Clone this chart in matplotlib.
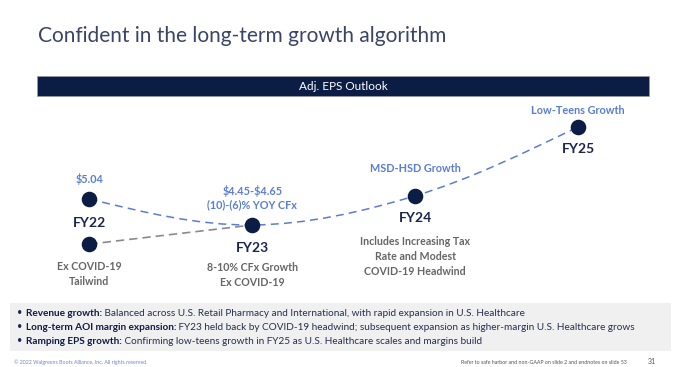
import matplotlib
matplotlib.use("Agg")
import matplotlib.pyplot as plt
from matplotlib.path import Path
from matplotlib.patches import PathPatch, Rectangle
import numpy as np

plt.rcParams['font.family'] = ['Lato', 'DejaVu Sans']

# ---- data ----
years = [22, 23, 24, 25]
fy_labels = ['FY22', 'FY23', 'FY24', 'FY25']
eps_path = [5.04, 4.55, 5.10, 6.40]      # reported / guided EPS trajectory (schematic)
ex_covid_years = [22, 23]
ex_covid = [4.19, 4.55]                   # FY22 ex COVID-19 tailwind
top_notes = [r'\$5.04', '\\$4.45-\\$4.65\n(10)-(6)% YOY CFx', 'MSD-HSD Growth', 'Low-Teens Growth']
bottom_notes = ['Ex COVID-19\nTailwind', '8-10% CFx Growth\nEx COVID-19',
                'Includes Increasing Tax\nRate and Modest\nCOVID-19 Headwind', '']
bullets = [
    ('Revenue growth:', ' Balanced across U.S. Retail Pharmacy and International, with rapid expansion in U.S. Healthcare'),
    ('Long-term AOI margin expansion:', ' FY23 held back by COVID-19 headwind; subsequent expansion as higher-margin U.S. Healthcare grows'),
    ('Ramping EPS growth:', ' Confirming low-teens growth in FY25 as U.S. Healthcare scales and margins build'),
]

NAVY = '#0b1d45'
BLUE = '#5a7dd4'
GRAY = '#666666'
W, H = 680, 367

fig = plt.figure(figsize=(6.8, 3.67), dpi=100)
fig.patch.set_facecolor('white')

def fx(px):
    return px / W

def fy(py):
    return 1 - py / H

# title
fig.text(fx(38), fy(42), 'Confident in the long-term growth algorithm', fontsize=15,
         color='#3a4466', ha='left', va='baseline')

# header bar
fig.patches.append(Rectangle((fx(37), fy(96)), fx(649 - 37), (96 - 76) / H,
                             transform=fig.transFigure, facecolor=NAVY,
                             edgecolor='#9a9a9a', linewidth=0.5, zorder=-1))
fig.text(fx(343), fy(86), 'Adj. EPS Outlook', fontsize=8.5, color='white',
         ha='center', va='center')

# bullet box
fig.patches.append(Rectangle((fx(10), fy(351)), fx(671 - 10), (351 - 303) / H,
                             transform=fig.transFigure, facecolor='#f0f0f0',
                             edgecolor='none', zorder=-1))

# chart axes over the whole slide, scaled so the dots land where they are on the slide
ax = fig.add_axes([0, 0, 1, 1])
ax.set_xlim(21.4512, 25.6255)
ax.set_ylim(5.04 - 168 / 53.06, 5.04 + 199 / 53.06)
ax.axis('off')
ax.patch.set_alpha(0)

# smooth dashed trajectory (Catmull-Rom style bezier through the points)
P = np.column_stack([years, eps_path]).astype(float)
n = len(P)
T = np.zeros_like(P)
for i in range(1, n - 1):
    T[i] = (P[i + 1] - P[i - 1]) / 2
T[0] = 1.5 * (P[1] - P[0]) - 0.5 * T[1]
T[-1] = 1.5 * (P[-1] - P[-2]) - 0.5 * T[-2]
verts = [P[0]]
codes = [Path.MOVETO]
for i in range(n - 1):
    verts += [P[i] + T[i] / 3, P[i + 1] - T[i + 1] / 3, P[i + 1]]
    codes += [Path.CURVE4] * 3
ax.add_patch(PathPatch(Path(verts, codes), facecolor='none', edgecolor=BLUE,
                       linewidth=1.1, linestyle=(0, (5.2, 3.4)), zorder=2))

ax.plot(ex_covid_years, ex_covid, color='#8a8a8a', linewidth=1.2,
        linestyle=(0, (5.0, 3.0)), zorder=2)

ax.plot(years, eps_path, 'o', color=NAVY, markersize=10.2, zorder=4, linestyle='none')
ax.plot(ex_covid_years[:1], ex_covid[:1], 'o', color=NAVY, markersize=10.2, zorder=4)

# labels around the points
top_dy = [20, 27.5, 27, 16]
fy_anchor = [(22, ex_covid[0]), (23, eps_path[1]), (24, eps_path[2]), (25, eps_path[3])]
fy_dy = [21, -23, -22, -22]
note_dy = [-17, -37, -40, 0]
for i in range(4):
    ax.annotate(top_notes[i], (years[i], eps_path[i]), xytext=(0, top_dy[i]),
                textcoords='offset pixels', ha='center', va='center',
                fontsize=7.8, fontweight='bold', color=BLUE, linespacing=1.3)
    ax.annotate(fy_labels[i], fy_anchor[i], xytext=(0, fy_dy[i]),
                textcoords='offset pixels', ha='center', va='center',
                fontsize=10, fontweight='bold', color='#1b2550')
    if bottom_notes[i]:
        anchor = (22, ex_covid[0]) if i == 0 else (years[i], eps_path[i])
        ax.annotate(bottom_notes[i], anchor, xytext=(0, note_dy[i]),
                    textcoords='offset pixels', ha='center', va='top',
                    fontsize=7.7, fontweight='bold', color=GRAY, linespacing=1.45)

# bullets: bold lead-in, then regular text placed right after it
for k, (head, rest) in enumerate(bullets):
    yb = 314 + 14 * k
    fig.text(fx(17), fy(yb - 1), '\u2022', fontsize=6.5, color='#1b2550', ha='left', va='center')
    t = fig.text(fx(26), fy(yb), head, fontsize=7.2, fontweight='bold', color='#0f1c44',
                 ha='left', va='center')
    ax.annotate(rest, xy=(1, 0), xycoords=t, ha='left', va='bottom',
                fontsize=7.2, color='#26304f', annotation_clip=False)

# footer
fig.text(fx(14), fy(362), '\u00a9 2022 Walgreens Boots Alliance, Inc. All rights reserved.',
         fontsize=3.8, color='#6f86c6', ha='left', va='center')
fig.text(fx(461), fy(362), 'Refer to safe harbor and non-GAAP on slide 2 and endnotes on slide 53',
         fontsize=3.8, color='#555555', ha='left', va='center')
fig.text(fx(652), fy(362), '31', fontsize=5, color='#555555', ha='center', va='center')

fig.savefig('out.png', dpi=100)
